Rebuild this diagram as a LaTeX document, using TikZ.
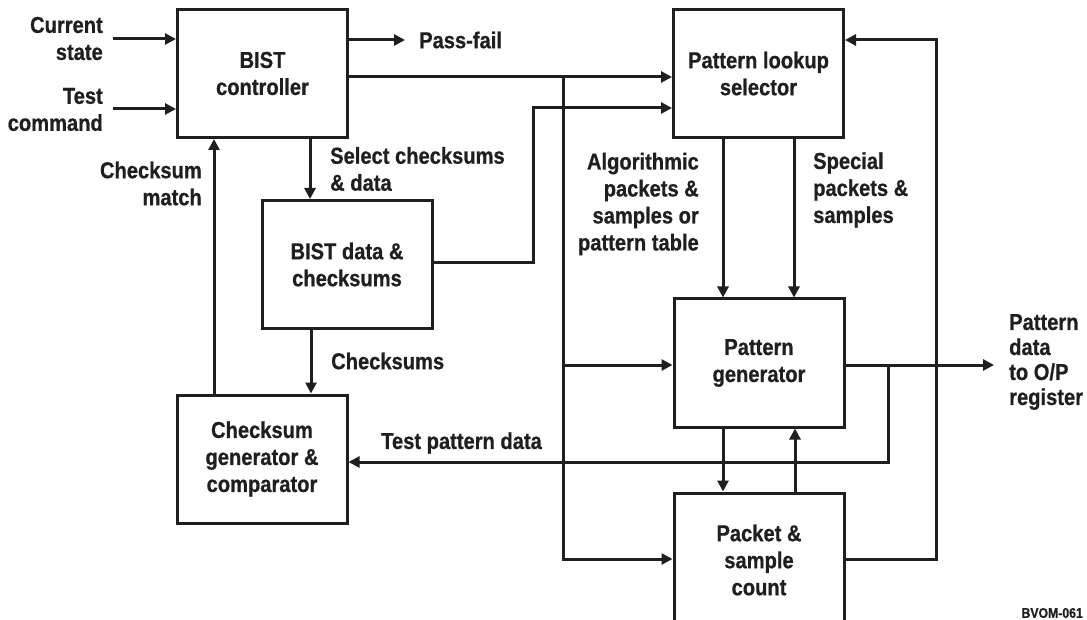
\documentclass[tikz,border=0pt]{standalone}
\usepackage{fontspec}
\setmainfont{Liberation Sans}[UprightFont={* Bold},BoldFont={* Bold},FakeStretch=0.875,FakeBold=0.7]
\usetikzlibrary{arrows.meta}
\newcommand\lblfont{\fontsize{23}{27}\selectfont}
\newcommand\smallfont{\fontsize{14}{16}\selectfont}
\begin{document}
\begin{tikzpicture}[x=1pt,y=-1pt,
  box/.style={draw=black!88,line width=3pt,minimum width=170pt,minimum height=128pt,inner sep=0pt,align=center,font=\lblfont,text=black!88},
  lbl/.style={inner sep=0pt,font=\lblfont,text=black!88},
  wire/.style={line width=3pt,draw=black!88},
  arr/.style={wire,-{Triangle[length=11pt,width=11pt]}}]
\clip (0,0) rectangle (1087,620);
\fill[white] (0,0) rectangle (1087,620);

% boxes
\node[box] (ctrl) at (262.5,73.5) {BIST\\controller};
\node[box] (sel) at (758.5,73.5) {Pattern lookup\\selector};
\node[box] (data) at (347,264.5) {BIST data \&\\checksums};
\node[box] (csum) at (262,459) {Checksum\\generator \&\\comparator};
\node[box] (gen) at (759,363) {Pattern\\generator};
\node[box,minimum height=134pt] (cnt) at (759,560) {Packet \&\\sample\\count};

% labels
\node[lbl,anchor=east,align=right] (lcs) at (103,38.5) {Current\\state};
\node[lbl,anchor=east,align=right] (ltc) at (103,109.5) {Test\\command};
\node[lbl,anchor=west] (lpf) at (419,40) {Pass-fail};
\node[lbl,anchor=west,align=left] (lsel) at (330,169) {Select checksums\\\& data};
\node[lbl,anchor=east,align=right] (lcm) at (202,183.5) {Checksum\\match};
\node[lbl,anchor=west] (lck) at (331,361) {Checksums};
\node[lbl,anchor=west] (ltp) at (381,443) {Test pattern data};
\node[lbl,anchor=east,align=right] (lalg) at (699,204) {Algorithmic\\packets \&\\samples or\\pattern table};
\node[lbl,anchor=west,align=left] (lsp) at (813,190) {Special\\packets \&\\samples};
\node[lbl,anchor=west,align=left,font=\fontsize{23}{25}\selectfont] (lout) at (1009,362) {Pattern\\data\\to O/P\\register};
\node[inner sep=0pt,anchor=east,font=\smallfont,text=black!88] (lid) at (1083,613) {BVOM-061};

% free ends and bends
\coordinate (csin) at (113,39);
\coordinate (tcin) at (113,109);
\coordinate (pfout) at (405,40);
\coordinate (bustop) at (563,77);
\coordinate (busbot) at (563,559);
\coordinate (busmid) at (563,365);
\coordinate (dbend) at (533,108);
\coordinate (tap) at (888,365);
\coordinate (tapbot) at (888,462);
\coordinate (fb) at (936,559);
\coordinate (fbtop) at (936,40);
\coordinate (outend) at (994,365);

% connectors
\draw[arr] (csin) -- (csin -| ctrl.west);
\draw[arr] (tcin) -- (tcin -| ctrl.west);
\draw[arr] (pfout -| ctrl.east) -- (pfout);
\draw[arr] (bustop -| ctrl.east) -- (bustop -| sel.west);
\draw[arr] (bustop) -- (busbot) -- (busbot -| cnt.west);
\draw[arr] (busmid) -- (busmid -| gen.west);
\draw[arr] (data.east |- 0,263) -- (dbend |- 0,263) -- (dbend) -- (dbend -| sel.west);
\draw[arr] (ctrl.south -| 310,0) -- (data.north -| 310,0);
\draw[arr] (data.south -| 311,0) -- (csum.north -| 311,0);
\draw[arr] (csum.north -| 214,0) -- (ctrl.south -| 214,0);
\draw[arr] (sel.south -| 723,0) -- (gen.north -| 723,0);
\draw[arr] (sel.south -| 794,0) -- (gen.north -| 794,0);
\draw[arr] (gen.south -| 723,0) -- (cnt.north -| 723,0);
\draw[arr] (cnt.north -| 795,0) -- (gen.south -| 795,0);
\draw[arr] (outend -| gen.east) -- (outend);
\draw[arr] (tap) -- (tapbot) -- (tapbot -| csum.east);
\draw[arr] (fb -| cnt.east) -- (fb) -- (fbtop) -- (fbtop -| sel.east);
\end{tikzpicture}
\end{document}
